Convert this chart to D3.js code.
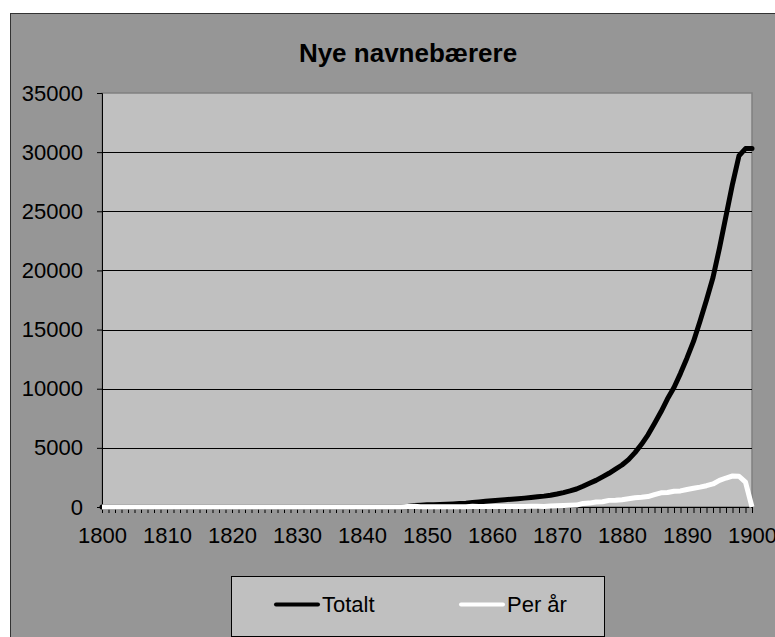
<!DOCTYPE html>
<html>
<head>
<meta charset="utf-8">
<script src="https://cdn.jsdelivr.net/npm/d3@7"></script>
<style>
  html, body { margin: 0; padding: 0; background: #fff; }
  svg { display: block; font-family: "Liberation Sans", Arial, sans-serif; }
</style>
</head>
<body>
<svg id="chart" width="775" height="637"></svg>
<script>
// Years on the category axis
const years = d3.range(1800, 1901);

// Cumulative number of new name bearers (1800–1900)
const totalt = [
  // 1800–1846
  0,0,0,0,0,0,0,0,0,0, 0,0,0,0,0,0,0,0,0,0,
  0,0,0,0,0,0,0,0,0,0, 0,0,0,0,0,0,0,0,0,0,
  0,0,0,0,0,0,0,
  // 1847–1859
  50,120,150,180,200,220,240,260,290,320,380,430,480,
  // 1860–1869
  520,570,610,660,700,750,810,870,920,1000,
  // 1870–1879
  1100,1220,1360,1520,1750,2000,2250,2550,2850,3200,
  // 1880–1889
  3550,4000,4600,5300,6100,7050,8050,9150,10100,11300,
  // 1890–1899
  12600,14000,15700,17500,19400,21900,24600,27300,29700,30300,
  // 1900
  30300
];

// New name bearers per year (1800–1900)
const perAar = [
  // 1800–1846
  0,0,0,0,0,0,0,0,0,0, 0,0,0,0,0,0,0,0,0,0,
  0,0,0,0,0,0,0,0,0,0, 0,0,0,0,0,0,0,0,0,0,
  0,0,0,0,0,0,0,
  // 1847–1859
  50,60,30,30,20,20,20,20,30,30,60,50,50,
  // 1860–1869
  40,50,40,50,40,50,60,60,50,80,
  // 1870–1879
  100,120,140,160,300,330,420,450,560,580,
  // 1880–1889
  620,700,780,820,880,1050,1200,1230,1330,1360,
  // 1890–1899
  1480,1580,1680,1800,1950,2250,2450,2620,2600,2100,
  // 1900
  0
];

const yTicks = [0, 5000, 10000, 15000, 20000, 25000, 30000, 35000];
const xLabelYears = [1800, 1810, 1820, 1830, 1840, 1850, 1860, 1870, 1880, 1890, 1900];
const title = "Nye navnebærere";
const seriesNames = ["Totalt", "Per år"];

const svg = d3.select("#chart");

// Chart area (frame runs off the right and bottom edge)
svg.append("rect")
  .attr("x", 10.5).attr("y", 13.5)
  .attr("width", 820).attr("height", 700)
  .attr("fill", "#969696")
  .attr("stroke", "#333").attr("stroke-width", 1);

// Plot area
const plot = { left: 102, right: 752, top: 93, bottom: 507 };

const x = d3.scalePoint().domain(years).range([plot.left, plot.right]);
const y = d3.scaleLinear().domain([0, 35000]).range([plot.bottom, plot.top]);

svg.append("rect")
  .attr("x", plot.left).attr("y", plot.top)
  .attr("width", plot.right - plot.left).attr("height", plot.bottom - plot.top)
  .attr("fill", "#c0c0c0")
  .attr("stroke", "#808080").attr("stroke-width", 1.5);

// Horizontal gridlines
svg.append("g")
  .selectAll("line")
  .data(yTicks.filter(d => d > 0 && d < 35000))
  .join("line")
  .attr("x1", plot.left).attr("x2", plot.right)
  .attr("y1", d => Math.round(y(d)) + 0.5).attr("y2", d => Math.round(y(d)) + 0.5)
  .attr("stroke", "#000").attr("stroke-width", 1);

// Y axis
const yAxis = svg.append("g")
  .attr("transform", `translate(${plot.left},0)`)
  .call(d3.axisLeft(y).tickValues(yTicks).tickSize(5).tickPadding(14).tickFormat(d3.format("d")));
yAxis.select(".domain").attr("stroke", "#000");
yAxis.selectAll(".tick line").attr("stroke", "#000");
yAxis.selectAll("text")
  .attr("font-size", 22).attr("fill", "#000")
  .attr("font-family", "Liberation Sans, Arial, sans-serif");

// X axis
const xAxis = svg.append("g")
  .attr("transform", `translate(0,${plot.bottom})`)
  .call(d3.axisBottom(x).tickValues(years).tickSize(6).tickPadding(14)
    .tickFormat(d => xLabelYears.includes(d) ? d : ""));
xAxis.select(".domain").attr("stroke", "#000");
xAxis.selectAll(".tick line").attr("stroke", "#000");
xAxis.selectAll("text")
  .attr("font-size", 22).attr("fill", "#000")
  .attr("font-family", "Liberation Sans, Arial, sans-serif");

// Lines
const line = d3.line().x((d, i) => x(years[i])).y(d => y(d));

svg.append("path")
  .datum(totalt)
  .attr("d", line)
  .attr("fill", "none")
  .attr("stroke", "#000").attr("stroke-width", 5)
  .attr("stroke-linejoin", "round").attr("stroke-linecap", "round");

svg.append("path")
  .datum(perAar)
  .attr("d", line)
  .attr("fill", "none")
  .attr("stroke", "#fff").attr("stroke-width", 5)
  .attr("stroke-linejoin", "round").attr("stroke-linecap", "butt");

// Title
svg.append("text")
  .attr("x", 408).attr("y", 62)
  .attr("text-anchor", "middle")
  .attr("font-size", 26).attr("font-weight", "bold")
  .text(title);

// Legend
const legend = svg.append("g");
legend.append("rect")
  .attr("x", 231.5).attr("y", 576.5)
  .attr("width", 373).attr("height", 60)
  .attr("fill", "#c0c0c0")
  .attr("stroke", "#000").attr("stroke-width", 1);

const legendItems = [
  { name: seriesNames[0], color: "#000", x0: 276 },
  { name: seriesNames[1], color: "#fff", x0: 461 }
];
legendItems.forEach(it => {
  legend.append("line")
    .attr("x1", it.x0).attr("x2", it.x0 + 42)
    .attr("y1", 604.5).attr("y2", 604.5)
    .attr("stroke", it.color).attr("stroke-width", 4)
    .attr("stroke-linecap", "round");
  legend.append("text")
    .attr("x", it.x0 + 46).attr("y", 612)
    .attr("font-size", 22)
    .text(it.name);
});
</script>
</body>
</html>
